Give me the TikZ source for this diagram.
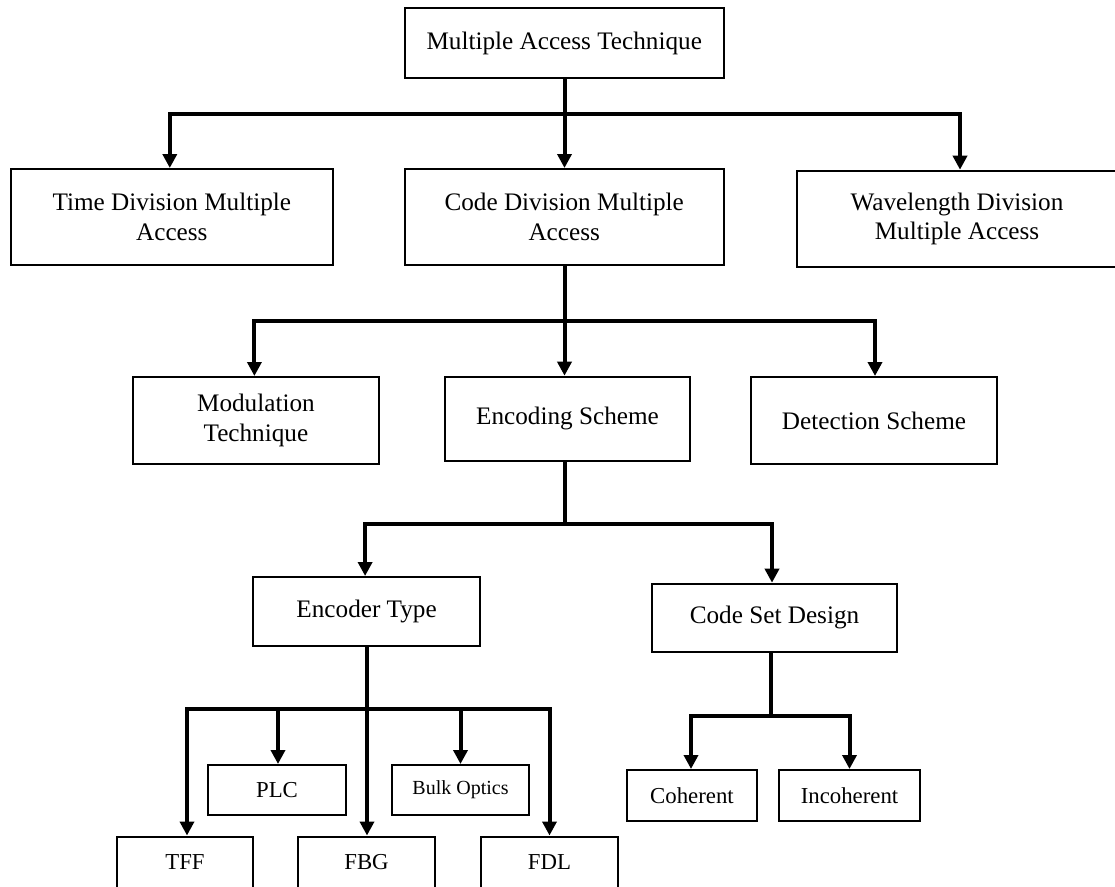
\documentclass[tikz,border=0pt]{standalone}
\usepackage{fontspec}
\setmainfont{Liberation Serif}
\usetikzlibrary{arrows.meta,calc}
\tikzset{
  box/.style={draw, line width=2pt, rectangle, inner sep=0pt, align=center,
              font=\fontsize{25.2}{29.3}\selectfont},
  small/.style={font=\fontsize{22.8}{27}\selectfont},
  plain/.style={draw, line width=4pt},
  arr/.style={draw, line width=4pt, -{Triangle[width=14pt,length=14pt]}},
  txt/.style={inner sep=0pt, align=center, font=\fontsize{25.2}{29.3}\selectfont}
}
\begin{document}
\begin{tikzpicture}[x=1pt,y=-1pt]
\useasboundingbox[fill=white] (0,0) rectangle (1115,886);
% level 0
\node[box, minimum width=319pt, minimum height=70pt] (mat) at (564.2,43.3) {Multiple Access Technique};
% level 1
\node[box, minimum width=322pt, minimum height=96pt] (tdma) at (171.8,217) {Time Division Multiple\\Access};
\node[box, minimum width=319pt, minimum height=96pt] (cdma) at (564.2,217) {Code Division Multiple\\Access};
\node[box, minimum width=324pt, minimum height=96pt] (wdma) at (958.5,218.7) {};
\node[txt] (wdmatext) at (957,218.7) {Wavelength Division\\Multiple Access};
% level 2
\node[box, minimum width=245.4pt, minimum height=87pt] (mod) at (255.9,420.5) {Modulation\\Technique};
\node[box, minimum width=245pt, minimum height=84pt] (enc) at (567.5,418.7) {Encoding Scheme};
\node[box, minimum width=246pt, minimum height=87pt] (det) at (874,420.5) {Detection Scheme};
% level 3
\node[box, minimum width=227.5pt, minimum height=69pt] (enctype) at (366.6,611.5) {Encoder Type};
\node[box, minimum width=245pt, minimum height=68pt] (csd) at (774.5,617.7) {Code Set Design};
% level 4
\node[box, small, minimum width=136pt, minimum height=52pt] (tff) at (185,862.5) {TFF};
\node[box, small, minimum width=138pt, minimum height=50pt] (plc) at (277,790) {PLC};
\node[box, small, minimum width=137pt, minimum height=52pt] (fbg) at (366.5,862.5) {FBG};
\node[box, font=\fontsize{20}{24}\selectfont, minimum width=137pt, minimum height=50pt] (bulk) at (460.5,790) {Bulk Optics};
\node[box, small, minimum width=137pt, minimum height=52pt] (fdl) at (549.5,862.5) {FDL};
\node[box, small, minimum width=130pt, minimum height=51pt] (coh) at (692,795.5) {Coherent};
\node[box, small, minimum width=141pt, minimum height=51pt] (incoh) at (849.5,795.5) {Incoherent};
% junctions
\coordinate (j1) at (564.5,114);
\coordinate (j2) at (564.5,321);
\coordinate (j3) at (564.5,524);
\coordinate (j4) at (367,709);
\coordinate (j5) at (771,716);
% connectors level 1
\draw[plain] (mat.south -| j1) -- (j1);
\draw[arr] (j1) -| ([xshift=-2pt]tdma.north);
\draw[arr] (j1) -- (cdma.north -| j1);
\draw[arr] (j1) -| ([xshift=1.5pt]wdma.north);
% level 2
\draw[plain] (cdma.south -| j2) -- (j2);
\draw[arr] (j2) -| ([xshift=-1.5pt]mod.north);
\draw[arr] (j2) -- (enc.north -| j2);
\draw[arr] (j2) -| ([xshift=1pt]det.north);
% level 3
\draw[plain] (enc.south -| j3) -- (j3);
\draw[arr] (j3) -| ([xshift=-1.5pt]enctype.north);
\draw[arr] (j3) -| ([xshift=-2.5pt]csd.north);
% level 4
\draw[arr] (enctype.south -| j4) -- (fbg.north -| j4);
\draw[arr] (j4) -| ([xshift=2pt]tff.north);
\draw[arr] (j4) -| ([xshift=1pt]plc.north);
\draw[arr] (j4) -| (bulk.north);
\draw[arr] (j4) -| (fdl.north);
% code set
\draw[plain] (csd.south -| j5) -- (j5);
\draw[arr] (j5) -| ([xshift=-1pt]coh.north);
\draw[arr] (j5) -| (incoh.north);
\end{tikzpicture}
\end{document}
